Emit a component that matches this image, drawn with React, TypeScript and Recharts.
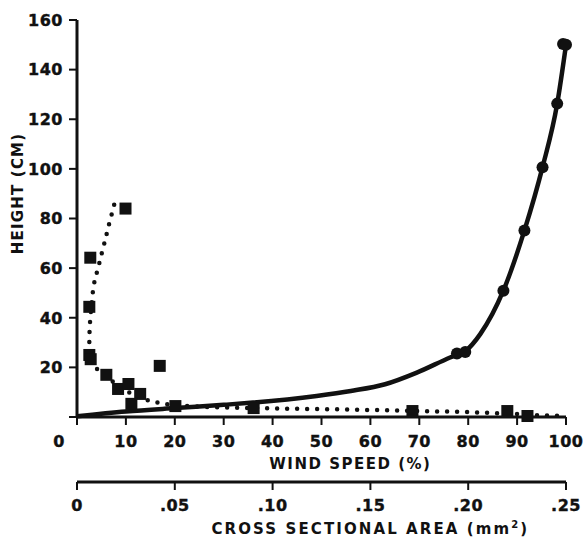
import { ComposedChart, Line, Scatter, XAxis, YAxis, Label } from "recharts";

const INK = "#111";
const FONT = "'DejaVu Sans', 'Liberation Sans', Arial, sans-serif";

const heightTicks = [0, 20, 40, 60, 80, 100, 120, 140, 160];
const windTicks = [0, 10, 20, 30, 40, 50, 60, 70, 80, 90, 100];
const areaTicks = [0, 0.05, 0.1, 0.15, 0.2, 0.25];

// wind speed (%) vs height (cm): smooth profile, then the measured circles
const windProfile = [
  [0, 0.3], [10, 2.2], [20, 3.6], [30, 4.9], [36, 5.8], [49, 8.5], [56, 10.5],
  [63, 13.2], [69.5, 17.9], [76.3, 24], [79.4, 26.5], [82.5, 33.5], [87.2, 51],
  [91.5, 75.2], [95.2, 100.7], [98.2, 126.3], [100, 150],
];
const windPoints = [
  [77.7, 25.6], [79.4, 26.2], [87.2, 50.9], [91.5, 75.2], [95.2, 100.7],
  [98.2, 126.3], [99.4, 150.3], [100, 150],
];

// cross sectional area (mm2) vs height (cm): dotted profile, then squares
const areaProfile = [
  [0.019, 85.5], [0.0175, 81], [0.016, 76.6], [0.0148, 72.6], [0.0135, 68.5],
  [0.012, 64], [0.0108, 60], [0.0093, 56], [0.0083, 52], [0.0078, 48],
  [0.0073, 44], [0.0068, 40], [0.0065, 36], [0.0063, 32], [0.0063, 28],
  [0.0065, 24], [0.007, 21.5], [0.01, 19.5], [0.015, 16.5], [0.021, 12.5],
  [0.0275, 9.5], [0.035, 7], [0.0425, 5.6], [0.05, 4.6], [0.0675, 4.0],
  [0.085, 3.7], [0.1125, 3.3], [0.14, 3.0], [0.17, 2.5], [0.2, 2.0],
  [0.22, 1.4], [0.2325, 0.8], [0.25, 0.4],
];
const areaPoints = [
  [0.0248, 84], [0.0068, 64.2], [0.0063, 44.4], [0.0063, 25], [0.007, 23.3],
  [0.015, 17], [0.021, 11.3], [0.0263, 13.3], [0.0323, 9.3], [0.0278, 5.3],
  [0.0423, 20.6], [0.0503, 4.4], [0.0903, 3.6], [0.1715, 2.4], [0.22, 2.4],
  [0.2303, 0.4],
];

const rows = (pairs: number[][]) => pairs.map(([x, h]) => ({ x, h }));

const tickText = {
  fontSize: 16, fontWeight: 700, fill: INK, stroke: INK, strokeWidth: 0.4,
  fontFamily: FONT, letterSpacing: 0.5,
};

/* eslint-disable @typescript-eslint/no-explicit-any */
function WindTick(props: any) {
  const { x, y, payload } = props;
  const v = payload.value;
  return <text x={v === 0 ? x - 18 : x} y={y} dy="0.72em" textAnchor="middle" {...tickText}>{v}</text>;
}
function AreaTick(props: any) {
  const { x, y, payload } = props;
  const v = payload.value;
  const s = v === 0 ? "0" : v.toFixed(2).replace(/^0/, "");
  return <text x={x} y={y} dy="0.72em" textAnchor="middle" {...tickText}>{s}</text>;
}
function HeightTick(props: any) {
  const { x, y, payload } = props;
  const v = payload.value;
  if (v === 0) return null;
  return <text x={x} y={y} dy="0.36em" textAnchor="end" {...tickText}>{v}</text>;
}
function Square(props: any) {
  const { cx, cy } = props;
  return <rect x={cx - 6} y={cy - 6} width={12} height={12} fill={INK} />;
}
function Dot(props: any) {
  const { cx, cy } = props;
  return <circle cx={cx} cy={cy} r={6} fill={INK} />;
}
/* eslint-enable @typescript-eslint/no-explicit-any */

const titleText = { fontSize: 15, fontWeight: 700, fill: INK, fontFamily: FONT, letterSpacing: 1.5 };

export default function App() {
  return (
    <div style={{ position: "absolute", left: 0, top: 0, width: 586, height: 538, background: "#fff" }}>
      <ComposedChart width={586} height={538} margin={{ top: 20, right: 20, left: 0, bottom: 0 }}>
        <XAxis
          xAxisId="a_wind" type="number" dataKey="x" domain={[0, 100]} ticks={windTicks} interval={0}
          height={65} axisLine={{ stroke: INK, strokeWidth: 3 }} tickLine={{ stroke: INK, strokeWidth: 2 }}
          tickSize={8} tickMargin={10} tick={<WindTick />}
        >
          <Label
            content={({ viewBox }: any) => (
              <text x={viewBox.x + viewBox.width * 0.559} y={viewBox.y + 52} textAnchor="middle" {...titleText}>
                WIND SPEED (%)
              </text>
            )}
          />
        </XAxis>
        <XAxis
          xAxisId="b_area" type="number" dataKey="x" domain={[0, 0.25]} ticks={areaTicks} interval={0}
          height={56} axisLine={{ stroke: INK, strokeWidth: 3 }} tickLine={{ stroke: INK, strokeWidth: 2 }}
          tickSize={8} tickMargin={9} tick={<AreaTick />}
        >
          <Label
            content={({ viewBox }: any) => (
              <text x={viewBox.x + viewBox.width * 0.6} y={viewBox.y + 52} textAnchor="middle" {...titleText} letterSpacing={2.1}>
                CROSS SECTIONAL AREA (mm<tspan dy={-6} fontSize={10}>2</tspan><tspan dy={6}>)</tspan>
              </text>
            )}
          />
        </XAxis>
        <YAxis
          type="number" dataKey="h" domain={[0, 160]} ticks={heightTicks} interval={0} width={77}
          axisLine={{ stroke: INK, strokeWidth: 3 }} tickLine={{ stroke: INK, strokeWidth: 2 }}
          tickSize={8} tickMargin={6} tick={<HeightTick />}
        >
          <Label
            content={({ viewBox }: any) => {
              const cx = 18;
              const cy = viewBox.y + viewBox.height * 0.437;
              return (
                <text x={cx} y={cy} dy="0.36em" textAnchor="middle" transform={`rotate(-90 ${cx} ${cy})`} {...titleText} letterSpacing={1.2}>
                  HEIGHT (CM)
                </text>
              );
            }}
          />
        </YAxis>
        <Line
          xAxisId="a_wind" data={rows(windProfile)} dataKey="h" type="monotone" stroke={INK} strokeWidth={4.5}
          dot={false} activeDot={false} isAnimationActive={false}
        />
        <Line
          xAxisId="b_area" data={rows(areaProfile)} dataKey="h" type="linear" stroke={INK} strokeWidth={4.5}
          strokeDasharray="0 10" strokeLinecap="round" dot={false} activeDot={false} isAnimationActive={false}
        />
        <Scatter xAxisId="a_wind" data={rows(windPoints)} dataKey="h" shape={<Dot />} isAnimationActive={false} />
        <Scatter xAxisId="b_area" data={rows(areaPoints)} dataKey="h" shape={<Square />} isAnimationActive={false} />
      </ComposedChart>
    </div>
  );
}
